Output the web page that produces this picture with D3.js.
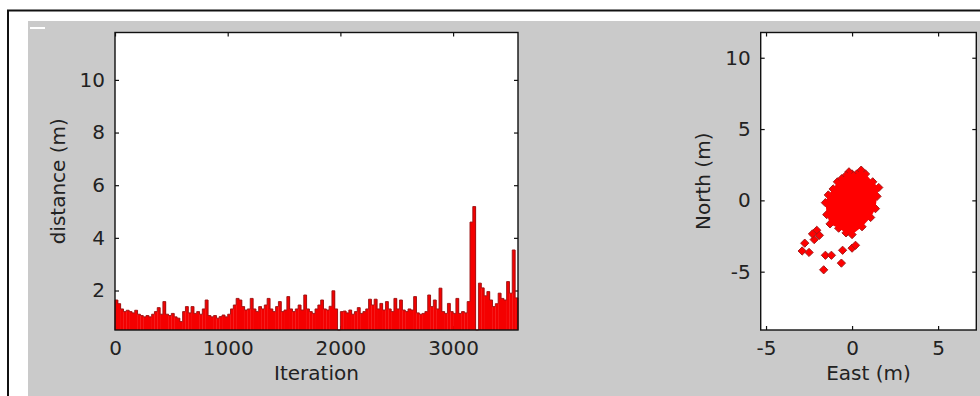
<!DOCTYPE html>
<html>
<head>
<meta charset="utf-8">
<script src="https://cdn.jsdelivr.net/npm/d3@7"></script>
<style>
  body { margin: 0; background: #fff; }
  svg { display: block; }
  .tick text { font-family: "DejaVu Sans", sans-serif; font-size: 20px; fill: #222; }
  .lbl { font-family: "DejaVu Sans", sans-serif; font-size: 20px; fill: #222; }
</style>
</head>
<body>
<figure id="chart" style="margin:0"></figure>
<script>
// distance per iteration, one value per 25-iteration bin
const binWidth = 25;
const iterMax = 3576;
const distance = [
  1.64, 1.50, 1.30, 1.20, 1.25, 1.20, 1.15, 1.25, 1.10, 1.05,
  1.00, 1.05, 1.00, 1.10, 1.20, 1.35, 1.10, 1.58, 1.10, 1.05,
  1.13, 1.00, 0.95, 0.82, 1.20, 1.39, 1.15, 1.39, 1.13, 1.20,
  1.10, 1.30, 1.64, 1.05, 1.00, 1.05, 0.95, 1.01, 1.07, 1.00,
  1.10, 1.30, 1.45, 1.70, 1.64, 1.39, 1.26, 1.30, 1.70, 1.30,
  1.20, 1.39, 1.30, 1.45, 1.70, 1.30, 1.20, 1.39, 1.58, 1.20,
  1.26, 1.77, 1.30, 1.20, 1.30, 1.45, 1.26, 1.83, 1.30, 1.20,
  1.13, 1.30, 1.45, 1.64, 1.30, 1.26, 1.40, 1.99, 1.30, 0.50,
  1.20, 1.22, 1.15, 1.26, 1.10, 1.20, 1.35, 1.13, 1.20, 1.30,
  1.67, 1.45, 1.67, 1.30, 1.51, 1.26, 1.58, 1.30, 1.20, 1.70,
  1.30, 1.64, 1.26, 1.20, 1.30, 1.26, 1.77, 1.15, 1.10, 1.13,
  1.20, 1.83, 1.39, 1.64, 1.30, 2.09, 1.20, 1.13, 1.51, 1.20,
  1.13, 1.70, 1.13, 1.20, 1.15, 1.58, 4.60, 5.19, 0.50, 2.28,
  2.10, 1.80, 1.96, 1.64, 1.39, 1.50, 1.90, 1.70, 1.64, 2.34,
  1.90, 3.54, 1.72
];
const iterTicks = [0, 1000, 2000, 3000];
const distTicks = [2, 4, 6, 8, 10];

// position scatter: dense cloud outline + scattered outliers
const cloudEast  = [-0.85, -1.10, -1.38, -1.55, -1.47, -1.28, -0.78, -0.35, 0.00, 0.58, 1.08, 1.36,
                    1.45, 1.55, 1.20, 0.78, 0.53, 0.27, 0.00, -0.18, -0.35, -0.60];
const cloudNorth = [1.30, 0.80, 0.38, -0.16, -1.00, -1.65, -1.95, -2.28, -2.40, -1.85, -1.20, -0.58,
                    0.28, 0.90, 1.30, 1.85, 2.12, 1.85, 1.85, 2.00, 1.75, 1.52];
const outEast  = [-2.05, -1.90, -2.20, -2.30, -2.75, -2.90, -2.50, -1.55, -1.20, -0.55, 0.00, 0.20, -0.62, -1.65];
const outNorth = [-2.10, -2.45, -2.75, -2.35, -3.00, -3.55, -3.65, -3.85, -3.85, -3.50, -3.35, -3.15, -4.40, -4.87];
const eastTicks = [-5, 0, 5];
const northTicks = [-5, 0, 5, 10];

const width = 980, height = 396;
const svg = d3.select('#chart').append('svg')
  .attr('width', width)
  .attr('height', height);

// figure frame
svg.append('rect').attr('x', 28).attr('y', 21).attr('width', width - 28).attr('height', height - 21)
  .attr('fill', '#cacaca');
svg.append('path').attr('d', `M8,${height} V10.5 H${width}`)
  .attr('fill', 'none').attr('stroke', '#111').attr('stroke-width', 2);
svg.append('rect').attr('x', 30).attr('y', 27).attr('width', 15).attr('height', 2).attr('fill', '#fff');

const plain = d => String(d);   // hyphen minus, like the original

function box(g, x0, y0, x1, y1) {
  g.append('rect')
    .attr('x', x0).attr('y', y0).attr('width', x1 - x0).attr('height', y1 - y0)
    .attr('fill', 'none').attr('stroke', '#111').attr('stroke-width', 1.4);
}

function styleAxis(sel) {
  sel.select('.domain').remove();
  sel.selectAll('.tick line').attr('stroke', '#111').attr('stroke-width', 1.2);
}

// ---------- left: distance vs iteration ----------
const L = { x0: 115, x1: 518, y0: 32.5, y1: 330 };
const x = d3.scaleLinear().domain([0, iterMax]).range([L.x0, L.x1]);
const y = d3.scaleLinear().domain([0.5, 11.8]).range([L.y1, L.y0]);
const left = svg.append('g');

left.append('rect').attr('x', L.x0).attr('y', L.y0).attr('width', L.x1 - L.x0).attr('height', L.y1 - L.y0)
  .attr('fill', '#fff');

left.append('g').attr('transform', `translate(0,${L.y1})`)
  .call(d3.axisBottom(x).tickValues(iterTicks).tickSize(-4).tickPadding(11).tickFormat(plain))
  .call(styleAxis);
left.append('g').attr('transform', `translate(0,${L.y0})`)
  .call(d3.axisTop(x).tickValues(iterTicks).tickSize(-4).tickFormat(''))
  .call(styleAxis);
left.append('g').attr('transform', `translate(${L.x0},0)`)
  .call(d3.axisLeft(y).tickValues(distTicks).tickSize(-4).tickPadding(10).tickFormat(plain))
  .call(styleAxis);
left.append('g').attr('transform', `translate(${L.x1},0)`)
  .call(d3.axisRight(y).tickValues(distTicks).tickSize(-4).tickFormat(''))
  .call(styleAxis);

const bins = distance.map((v, i) => ({ a: i * binWidth, b: Math.min((i + 1) * binWidth, iterMax), v }));
left.append('g').selectAll('rect').data(bins).enter().append('rect')
  .attr('x', d => x(d.a))
  .attr('width', d => x(d.b) - x(d.a) + 0.3)
  .attr('y', d => y(d.v))
  .attr('height', d => y(0.5) - y(d.v))
  .attr('fill', '#f40000');

let step = `M${x(0)},${y(0.5)}`;
bins.forEach(d => { step += `V${y(d.v)}H${x(d.b)}`; });
step += `V${y(0.5)}`;
left.append('path').attr('d', step)
  .attr('fill', 'none').attr('stroke', '#9a1414').attr('stroke-width', 0.9);

box(left, L.x0, L.y0, L.x1, L.y1);

left.append('text').attr('class', 'lbl')
  .attr('x', (L.x0 + L.x1) / 2).attr('y', 380).attr('text-anchor', 'middle')
  .text('Iteration');
left.append('text').attr('class', 'lbl')
  .attr('transform', `translate(65,${(L.y0 + L.y1) / 2}) rotate(-90)`).attr('text-anchor', 'middle')
  .text('distance (m)');

// ---------- right: north vs east ----------
const R = { x0: 760.7, x1: 976.3, y0: 32.5, y1: 330 };
const xe = d3.scaleLinear().domain([-5.31, 7.22]).range([R.x0, R.x1]);
const yn = d3.scaleLinear().domain([-9.09, 11.77]).range([R.y1, R.y0]);
const right = svg.append('g');

right.append('rect').attr('x', R.x0).attr('y', R.y0).attr('width', R.x1 - R.x0).attr('height', R.y1 - R.y0)
  .attr('fill', '#fff');

right.append('g').attr('transform', `translate(0,${R.y1})`)
  .call(d3.axisBottom(xe).tickValues(eastTicks).tickSize(-4).tickPadding(11).tickFormat(plain))
  .call(styleAxis);
right.append('g').attr('transform', `translate(0,${R.y0})`)
  .call(d3.axisTop(xe).tickValues(eastTicks).tickSize(-4).tickFormat(''))
  .call(styleAxis);
right.append('g').attr('transform', `translate(${R.x0},0)`)
  .call(d3.axisLeft(yn).tickValues(northTicks).tickSize(-4).tickPadding(10).tickFormat(plain))
  .call(styleAxis);
right.append('g').attr('transform', `translate(${R.x1},0)`)
  .call(d3.axisRight(yn).tickValues(northTicks).tickSize(-4).tickFormat(''))
  .call(styleAxis);

const diamond = d3.symbol().type(d3.symbolSquare).size(34);
const cloud = cloudEast.map((e, i) => [e, cloudNorth[i]]);
const outliers = outEast.map((e, i) => [e, outNorth[i]]);

right.append('g').selectAll('path').data(cloud.concat(outliers)).enter().append('path')
  .attr('d', diamond)
  .attr('transform', d => `translate(${xe(d[0])},${yn(d[1])}) rotate(45)`)
  .attr('fill', '#f00').attr('stroke', '#a01818').attr('stroke-width', 0.9);

right.append('path')
  .attr('d', d3.line().x(d => xe(d[0])).y(d => yn(d[1])).curve(d3.curveLinearClosed)(cloud))
  .attr('fill', '#f00');

box(right, R.x0, R.y0, R.x1, R.y1);

right.append('text').attr('class', 'lbl')
  .attr('x', (R.x0 + R.x1) / 2).attr('y', 380).attr('text-anchor', 'middle')
  .text('East (m)');
right.append('text').attr('class', 'lbl')
  .attr('transform', `translate(710,${(R.y0 + R.y1) / 2}) rotate(-90)`).attr('text-anchor', 'middle')
  .text('North (m)');
</script>
</body>
</html>
